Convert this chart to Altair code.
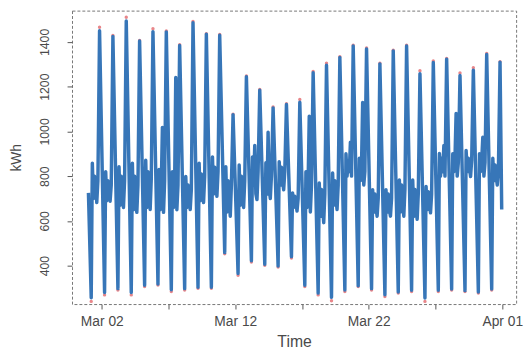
import altair as alt
import pandas as pd

# ---- values (one month of hourly-ish energy use) ----
days = list(range(1, 32))

# observed (red) daily extremes
peak_obs = [1466, 1429, 1510, 1407, 1459, 1449, 1388, 1491, 1437, 1433, 1077, 1248, 1187, 1109, 1124, 1143,
            1268, 1305, 1334, 1385, 1373, 1305, 1363, 1385, 1271, 1315, 1326, 1261, 1285, 1348, 1312]
dip_obs = [240, 269, 291, 269, 306, 313, 284, 291, 299, 299, 453, 357, 416, 401, 394, 434,
           306, 269, 243, 284, 306, 291, 262, 277, 284, 240, 284, 291, 284, 277, 291]

# fitted (blue) line key points per day
dip_fit = [256, 280, 297, 280, 312, 318, 292, 297, 303, 303, 458, 365, 422, 406, 398, 440,
           312, 277, 258, 291, 310, 297, 270, 282, 290, 255, 290, 295, 288, 282, 295]
m07 = [858, 820, 842, 858, 871, 830, 820, 798, 858, 886, 842, 850, 886, 860, 864, 725,
       820, 769, 814, 900, 880, 739, 739, 783, 783, 754, 901, 900, 915, 900, 880]
m09 = [700, 690, 670, 650, 660, 650, 660, 660, 690, 720, 640, 670, 760, 720, 760, 660,
       660, 620, 670, 800, 780, 640, 640, 640, 620, 650, 800, 820, 820, 820, 780]
m11 = [800, 780, 800, 800, 820, 760, 780, 760, 810, 840, 780, 800, 937, 996, 840, 710,
       780, 740, 780, 870, 850, 720, 720, 760, 740, 730, 880, 880, 880, 870, 850]
m13 = [760, 740, 720, 700, 720, 1018, 1241, 700, 740, 760, 700, 720, 720, 740, 780, 680,
       1068, 660, 700, 820, 1129, 660, 650, 680, 660, 680, 820, 1080, 840, 974, 800]
m15 = [682, 688, 660, 638, 651, 638, 650, 651, 682, 710, 621, 660, 695, 700, 739, 644,
       640, 592, 651, 952, 760, 621, 621, 621, 607, 636, 937, 800, 798, 800, 760]
m17 = [780, 760, 780, 760, 790, 780, 760, 740, 800, 820, 760, 780, 820, 800, 820, 700,
       760, 720, 760, 800, 820, 700, 700, 740, 720, 720, 800, 860, 870, 860, 820]
peak_fit = [1450, 1424, 1494, 1404, 1446, 1445, 1384, 1486, 1434, 1430, 1074, 1244, 1184, 1105, 1120, 1130,
            1262, 1296, 1330, 1382, 1369, 1302, 1360, 1382, 1258, 1308, 1323, 1250, 1274, 1344, 1309]
start_value = 725
end_value = 651

hours = [5, 7, 9, 11, 13, 15, 17, 20]
series = [dip_fit, m07, m09, m11, m13, m15, m17, peak_fit]

fit_rows = [{"time": "2015-03-01T00:00:00", "kwh": start_value}]
for i, d in enumerate(days):
    for h, s in zip(hours, series):
        fit_rows.append({"time": f"2015-03-{d:02d}T{h:02d}:00:00", "kwh": s[i]})
fit_rows.append({"time": "2015-03-31T23:00:00", "kwh": end_value})
fit_df = pd.DataFrame(fit_rows)

obs_rows = []
for i, d in enumerate(days):
    obs_rows.append({"time": f"2015-03-{d:02d}T05:00:00", "kwh": dip_obs[i]})
    obs_rows.append({"time": f"2015-03-{d:02d}T20:00:00", "kwh": peak_obs[i]})
obs_df = pd.DataFrame(obs_rows)

tick_dates = [alt.DateTime(year=2015, month=3, date=d) for d in (2, 7, 12, 17, 22, 27)] + \
             [alt.DateTime(year=2015, month=4, date=1)]
y_ticks = [400, 600, 800, 1000, 1200, 1400]

text_color = "#4a4a4a"
font = "Liberation Sans"

x_enc = alt.X(
    "time:T",
    scale=alt.Scale(domain=[alt.DateTime(year=2015, month=2, date=27, hours=18, minutes=28),
                            alt.DateTime(year=2015, month=4, date=2, hours=0, minutes=55)], nice=False),
    axis=alt.Axis(
        values=tick_dates,
        labelExpr="(date(datum.value) == 2 || date(datum.value) == 12 || date(datum.value) == 22 || month(datum.value) == 3) ? timeFormat(datum.value, '%b %d') : ''",
        labelFontSize=14, labelPadding=6, labelFont=font, labelColor=text_color,
        labelOverlap=False, labelFlush=False,
        title="Time", titleFontSize=16, titleFont=font, titleColor=text_color,
        titleFontWeight="normal", titleBaseline="alphabetic", titleY=43,
        tickSize=5, tickColor="#555", domain=False, grid=False,
    ),
)
y_enc = alt.Y(
    "kwh:Q",
    scale=alt.Scale(domain=[228, 1540], nice=False, zero=False),
    axis=alt.Axis(
        values=y_ticks, format="d", labelAngle=270, labelAlign="center", labelBaseline="bottom",
        labelFontSize=12.5, labelPadding=16, labelFont=font, labelColor=text_color,
        title="kWh", titleFontSize=14, titleFont=font, titleColor=text_color,
        titleFontWeight="normal", titleAngle=270, titleAlign="center", titleBaseline="middle",
        titleX=-56, titleY=149,
        tickSize=5, tickColor="#555", domain=False, grid=False,
    ),
)

points = alt.Chart(obs_df).mark_circle(color="#e8868a", size=12, opacity=1).encode(x=x_enc, y=y_enc)
line = alt.Chart(fit_df).mark_line(color="#3776b8", strokeWidth=3.5, strokeJoin="round").encode(x=x_enc, y=y_enc)

chart = alt.layer(points, line).properties(
    width=451, height=298,
    padding={"left": 65, "top": 0, "right": 8, "bottom": 45},
    autosize=alt.AutoSizeParams(type="none"),
    background="white",
).configure_view(stroke="#777", strokeWidth=1, strokeDash=[3, 2])

chart.save("out.html", embed_options={"renderer": "svg", "actions": False})
